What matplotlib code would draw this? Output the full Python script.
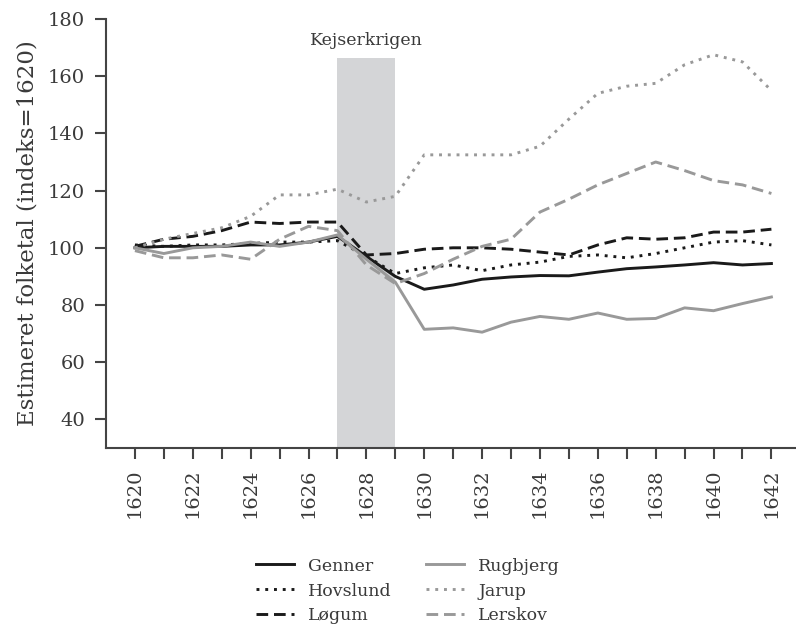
import numpy as np
import matplotlib
matplotlib.use("Agg")
import matplotlib.pyplot as plt

# data (index, 1620 = 100)
years = list(range(1620, 1643))
genner = [100, 100.5, 100.5, 100.5, 101, 101, 102, 104, 97, 90, 85.5, 87, 89,
          89.8, 90.3, 90.2, 91.5, 92.7, 93.3, 94, 94.8, 94, 94.5]
hovslund = [101, 100.5, 101, 101, 101.5, 102, 102, 102.5, 97, 91, 93, 94, 92,
            94, 95, 97, 97.5, 96.5, 98, 100, 102, 102.5, 101]
logum = [100.5, 103, 104, 106, 109, 108.5, 109, 109, 97.5, 98, 99.5, 100, 100,
         99.5, 98.5, 97.5, 101, 103.5, 103, 103.5, 105.5, 105.5, 106.5]
rugbjerg = [100, 98, 100, 100.5, 102, 100.5, 102, 104.5, 96, 88, 71.5, 72, 70.5,
            74, 76, 75, 77.2, 75, 75.3, 79, 78, 80.5, 82.8]
jarup = [100, 103, 105, 107, 111, 118.5, 118.5, 120.5, 116, 118, 132.5, 132.5,
         132.5, 132.5, 135.5, 145, 154, 156.5, 157.5, 164, 167.5, 165, 155]
lerskov = [99, 96.5, 96.5, 97.5, 96, 103, 107.5, 106, 94, 87.5, 91, 96, 100.5,
           103, 112.5, 117, 122, 126, 130, 127, 123.5, 122, 119]

war_start, war_end = 1627, 1629

plt.rcParams['font.family'] = ['DejaVu Serif']
txt = '#3a3a3a'
black = '#1a1a1a'
grey = '#999999'

fig = plt.figure(figsize=(7.96, 6.29), dpi=100)
ax = fig.add_axes([106 / 796, 1 - 448 / 629, 690 / 796, 429 / 629])

# shaded war period
ax.axvspan(war_start, war_end, ymin=0, ymax=0.909, color='#d4d5d7', lw=0, zorder=0)
ax.text((war_start + war_end) / 2, 172.5, 'Kejserkrigen', ha='center', va='center',
        fontsize=12.5, color=txt)

lw = 2.1
ax.plot(years, genner, color=black, lw=lw, ls='-', label='Genner')
ax.plot(years, hovslund, color=black, lw=lw, ls=(0, (1, 2)), label='Hovslund')
ax.plot(years, logum, color=black, lw=lw, ls=(0, (4, 2)), label='Løgum')
ax.plot(years, rugbjerg, color=grey, lw=lw, ls='-', label='Rugbjerg')
ax.plot(years, jarup, color=grey, lw=lw, ls=(0, (1, 2)), label='Jarup')
ax.plot(years, lerskov, color=grey, lw=lw, ls=(0, (4, 2)), label='Lerskov')

ax.set_xlim(1619, 1642.85)
ax.set_ylim(30, 180)
ax.set_yticks(range(40, 181, 20))
ax.set_xticks(years)
ax.set_xticklabels([str(y) if y % 2 == 0 else '' for y in years], rotation=90)
ax.set_ylabel('Estimeret folketal (indeks=1620)', fontsize=16.5, color=txt, labelpad=7)

for s in ['top', 'right']:
    ax.spines[s].set_visible(False)
for s in ['left', 'bottom']:
    ax.spines[s].set_color('#444444')
    ax.spines[s].set_linewidth(1.5)
ax.tick_params(axis='both', length=8, width=1.5, color='#444444',
               labelsize=14, labelcolor=txt, pad=7)

fig.legend(loc='center', bbox_to_anchor=(408 / 796, 1 - 591 / 629), ncol=2,
           frameon=False, fontsize=12.5, handlelength=2.2, handletextpad=0.8,
           columnspacing=2.0, labelspacing=0.46, labelcolor=txt)

fig.savefig('out.png', dpi=100)
